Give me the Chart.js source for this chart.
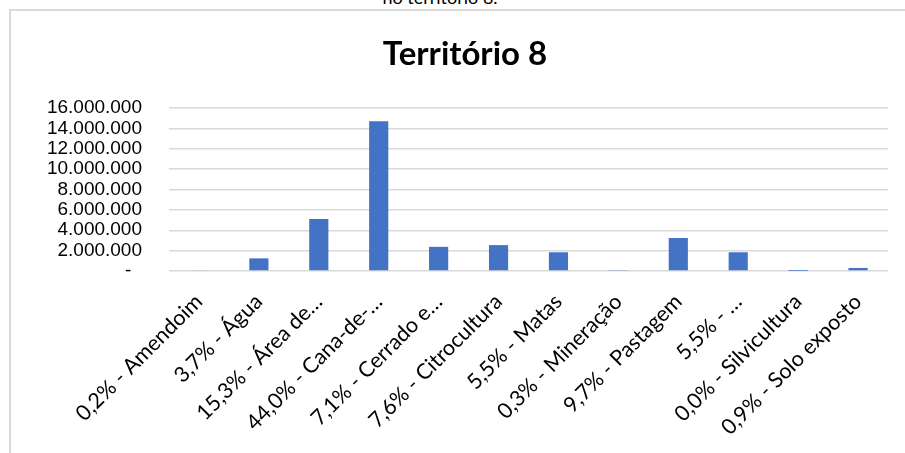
<!DOCTYPE html>
<html>
<head>
<meta charset="utf-8">
<script src="https://cdn.jsdelivr.net/npm/chart.js@4/dist/chart.umd.min.js"></script>
<style>
  body { margin: 0; background: #fff; overflow: hidden; }
  #wrap { position: relative; width: 905px; height: 453px; overflow: hidden; }
  #caption { position: absolute; left: 0; width: 880px; top: -14px; text-align: center;
    font-family: Lato, sans-serif; font-size: 18px; color: #000; }
  #frame { position: absolute; left: 9px; top: 9px; width: 940px; height: 500px;
    border-left: 2px solid #dadada; border-top: 2px solid #dadada; }
  #chart { position: absolute; left: 0; top: 0; }
</style>
</head>
<body>
<div id="wrap">
  <div id="caption">no território 8.</div>
  <div id="frame"></div>
  <canvas id="chart" width="905" height="453"></canvas>
</div>
<script>
// categorias (rótulos do eixo X)
var categories = [
  "0,2% - Amendoim",
  "3,7% - Água",
  "15,3% - Área de…",
  "44,0% - Cana-de-…",
  "7,1% - Cerrado e…",
  "7,6% - Citrocultura",
  "5,5% - Matas",
  "0,3% - Mineração",
  "9,7% - Pastagem",
  "5,5% - …",
  "0,0% - Silvicultura",
  "0,9% - Solo exposto"
];
// área por classe
var areaValues = [
  67000, 1240000, 5110000, 14700000, 2370000, 2540000,
  1840000, 100000, 3240000, 1840000, 3000, 300000
];
var yTicks = [0, 2000000, 4000000, 6000000, 8000000, 10000000, 12000000, 14000000, 16000000];

function fmtNumber(v) {
  if (v == 0) return "-\u2007";
  return String(v).replace(/\B(?=(\d{3})+(?!\d))/g, ".");
}

var ctx = document.getElementById("chart");
var myChart = new Chart(ctx, {
  type: "bar",
  data: {
    labels: categories,
    datasets: [
      {
        data: areaValues,
        backgroundColor: "#4472C4",
        borderWidth: 0,
        categoryPercentage: 1.0,
        barPercentage: 0.32,
      },
    ],
  },
  options: {
    responsive: false,
    animation: false,
    layout: { padding: { left: 42, right: 17, top: 0, bottom: 0 } },
    plugins: {
      legend: { display: false },
      tooltip: { enabled: false },
      title: {
        display: true,
        text: "Território 8",
        color: "#000",
        font: { family: "Lato", size: 33, weight: "bold", lineHeight: 1.2 },
        padding: { top: 35, bottom: 33.4 },
      },
    },
    scales: {
      x: {
        grid: { display: false, drawTicks: false },
        border: { display: false },
        ticks: {
          color: "#000",
          font: { family: "Lato", size: 21.5 },
          minRotation: 45,
          maxRotation: 45,
          autoSkip: false,
          padding: 18,
        },
        afterFit: function (scale) { scale.height = 182; },
      },
      y: {
        min: 0,
        max: yTicks[yTicks.length - 1],
        afterBuildTicks: function (scale) {
          scale.ticks = yTicks.map(function (v) { return { value: v }; });
        },
        grid: { color: "#d9d9d9", lineWidth: 1.5, drawTicks: false },
        border: { display: false },
        ticks: {
          color: "#000",
          font: { family: "Liberation Sans", size: 19 },
          padding: 27,
          autoSkip: false,
          callback: function (v) { return fmtNumber(v); },
        },
        afterFit: function (scale) { scale.width = 127; },
      },
    },
  },
});
</script>
</body>
</html>
